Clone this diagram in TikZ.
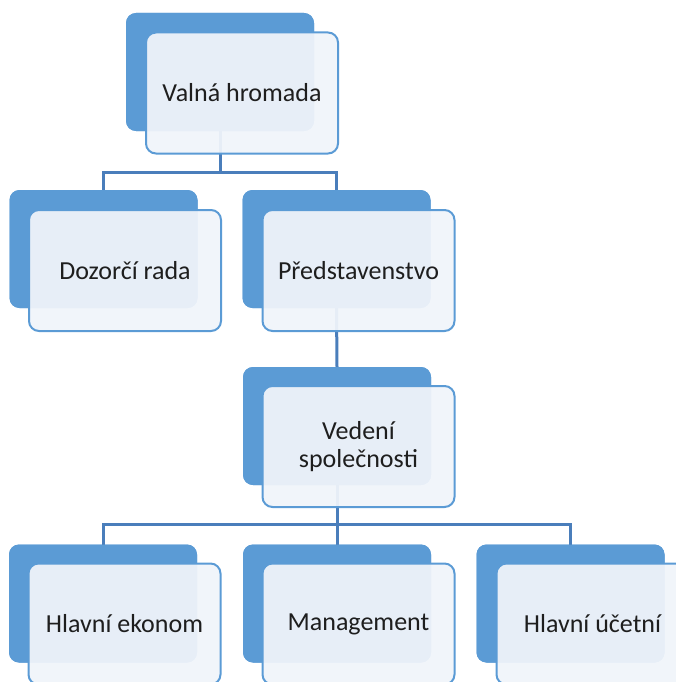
\documentclass[tikz,border=0pt]{standalone}
\usepackage{fontspec}
\setmainfont{Carlito}
\usetikzlibrary{positioning}
\definecolor{backblue}{HTML}{5B9BD5}
\definecolor{lineblue}{HTML}{4A7EBB}
\definecolor{frontfill}{HTML}{F0F4FA}
\definecolor{txt}{HTML}{1E1E1E}
\tikzset{
  backbox/.style={rectangle, rounded corners=10pt, fill=backblue, draw=none,
    minimum width=188pt, minimum height=118pt, inner sep=0pt, outer sep=0pt},
  frontbox/.style={rectangle, rounded corners=10pt, fill=frontfill, fill opacity=0.94,
    text opacity=1, draw=backblue, line width=2pt, text=txt,
    minimum width=192pt, minimum height=121pt, inner sep=0pt, outer sep=0pt,
    align=center, font=\fontsize{26}{28.5}\selectfont},
  conn/.style={draw=lineblue, line width=3pt}
}
\begin{document}
\begin{tikzpicture}[x=1pt,y=-1pt]
\useasboundingbox (0,0) rectangle (676,682);
\clip (0,0) rectangle (676,682);
% back boxes
\node[backbox] (Vb) at (220,72) {};
\node[backbox] (Db) at (103.5,249) {};
\node[backbox] (Pb) at (336.5,249) {};
\node[backbox] (Eb) at (337,426) {};
\node[backbox] (Hb) at (103,603.5) {};
\node[backbox] (Mb) at (337,603.5) {};
\node[backbox] (Ub) at (570.5,603.5) {};
% junctions
\coordinate (j1) at (220,172);
\coordinate (j2) at (337,524);
% connectors
\draw[conn] (Vb.south) -- (j1);
\draw[conn] (Db.north) |- (j1) -| (Pb.north);
\draw[conn] (Pb.south) -- (Eb.north);
\draw[conn] (Eb.south) -- (j2);
\draw[conn] (Hb.north) |- (j2) -| (Ub.north);
\draw[conn] (j2) -- (Mb.north);
% redraw back boxes on top of connectors
\node[backbox] at (Vb) {};
\node[backbox] at (Db) {};
\node[backbox] at (Pb) {};
\node[backbox] at (Eb) {};
\node[backbox] at (Hb) {};
\node[backbox] at (Mb) {};
\node[backbox] at (Ub) {};
% front boxes
\node[frontbox] (V) at (242,93) {Valná hromada};
\node[frontbox] (D) at (125,270.5) {Dozorčí rada};
\node[frontbox] (P) at (358.5,270.5) {Představenstvo};
\node[frontbox] (E) at (358.5,446.5) {Vedení\\společnosti};
\node[frontbox] (H) at (124.5,624) {Hlavní ekonom};
\node[frontbox] (M) at (358.5,624) {Management};
\node[frontbox] (U) at (592.5,624) {Hlavní účetní};
\end{tikzpicture}
\end{document}
